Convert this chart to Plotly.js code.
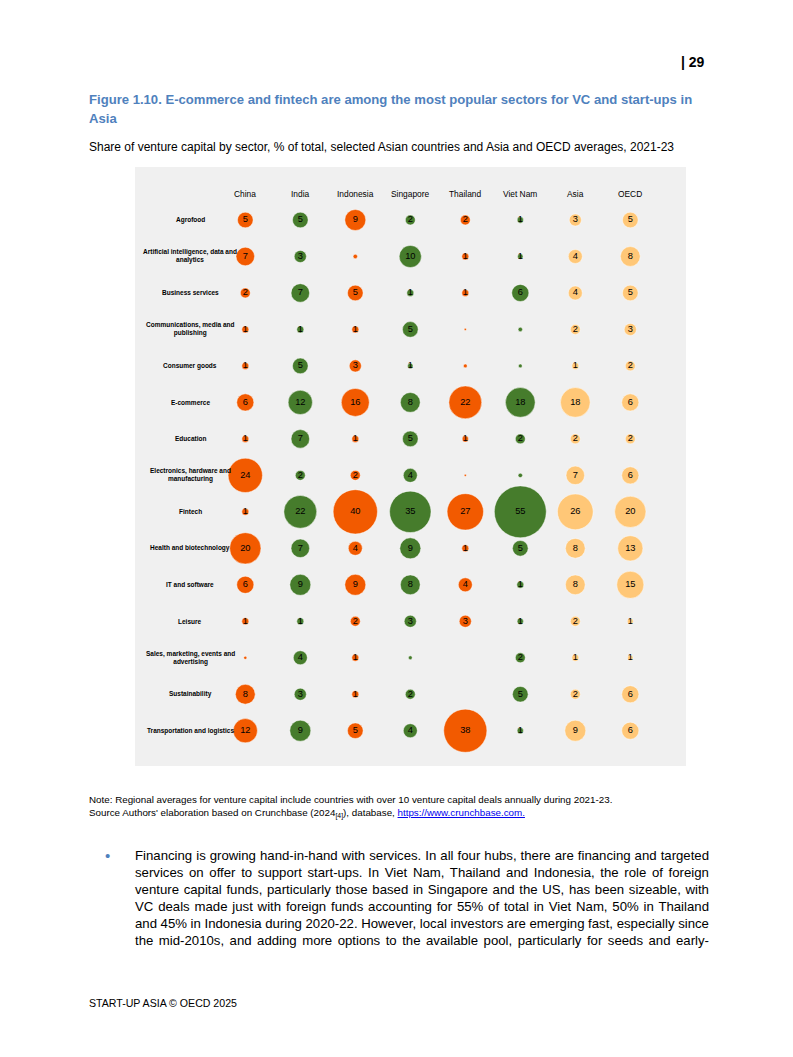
<!DOCTYPE html>
<html>
<head>
<meta charset="utf-8">
<script src="https://cdn.plot.ly/plotly-3.0.1.min.js"></script>
<style>
html,body{margin:0;padding:0;background:#fff;}
#chart{width:793px;height:1057px;}
</style>
</head>
<body>
<div id="chart"></div>
<script>
// ---------- DATA ----------
const countries = ["China", "India", "Indonesia", "Singapore", "Thailand", "Viet Nam", "Asia", "OECD"];
const sectors = [
  "Agrofood",
  "Artificial intelligence, data and<br>analytics",
  "Business services",
  "Communications, media and<br>publishing",
  "Consumer goods",
  "E-commerce",
  "Education",
  "Electronics, hardware and<br>manufacturing",
  "Fintech",
  "Health and biotechnology",
  "IT and software",
  "Leisure",
  "Sales, marketing, events and<br>advertising",
  "Sustainability",
  "Transportation and logistics"
];
// values per country, in sector order (% of total)
const china     = [5, 7, 2, 1, 1, 6, 1, 24, 1, 20, 6, 1, 0.2, 8, 12];
const india     = [5, 3, 7, 1, 5, 12, 7, 2, 22, 7, 9, 1, 4, 3, 9];
const indonesia = [9, 0.4, 5, 1, 3, 16, 1, 2, 40, 4, 9, 2, 1, 1, 5];
const singapore = [2, 10, 1, 5, 0.6, 8, 5, 4, 35, 9, 8, 3, 0.3, 2, 4];
const thailand  = [2, 1, 1, 0.1, 0.3, 22, 0.8, 0.1, 27, 1, 4, 3, 0, 0, 38];
const vietnam   = [0.8, 0.6, 6, 0.4, 0.3, 18, 2, 0.4, 55, 5, 1, 0.8, 2, 5, 0.8];
const asia      = [3, 4, 4, 2, 1, 18, 2, 7, 26, 8, 8, 2, 1, 2, 9];
const oecd      = [5, 8, 5, 3, 2, 6, 2, 6, 20, 13, 15, 0.7, 0.6, 6, 6];
const seriesValues = [china, india, indonesia, singapore, thailand, vietnam, asia, oecd];

// ---------- STYLE ----------
const ORANGE = "#F25A00", GREEN = "#467C2C", LIGHT = "#FFC777";
const colColors = [ORANGE, GREEN, ORANGE, GREEN, ORANGE, GREEN, LIGHT, LIGHT];
const NARROW = "'Liberation Sans Narrow', 'Arial Narrow', 'Liberation Sans', Arial, sans-serif";
const ARIAL = "'Liberation Sans', Arial, sans-serif";
const W = 793, H = 1057;
const px = v => v / W;
const py = v => 1 - v / H;

// ---------- TRACES ----------
const traces = [];
countries.forEach((c, ci) => {
  const xs = [], ys = [], sz = [], lx = [], ly = [], tx = [];
  seriesValues[ci].forEach((v, ri) => {
    if (v <= 0) return;
    xs.push(ci); ys.push(ri); sz.push(7 * Math.sqrt(v));
    const r = Math.round(v);
    if (r >= 1) { lx.push(ci); ly.push(ri); tx.push(String(r)); }
  });
  traces.push({
    type: "scatter", mode: "markers", x: xs, y: ys,
    marker: {size: sz, sizemode: "diameter", sizeref: 1, color: colColors[ci], opacity: 1,
             line: {color: "rgba(255,255,255,0.45)", width: 1}},
    hoverinfo: "skip", showlegend: false, cliponaxis: false, name: c
  });
  traces.push({
    type: "scatter", mode: "text", x: lx, y: ly, text: tx,
    textposition: "middle center",
    textfont: {family: NARROW, size: 9.3, color: "#000"},
    hoverinfo: "skip", showlegend: false, cliponaxis: false, name: c + " labels"
  });
});

// ---------- ANNOTATIONS ----------
const ann = [];
countries.forEach((c, ci) => ann.push({
  x: ci, y: -0.71, xref: "x", yref: "y", text: c, showarrow: false,
  xanchor: "center", yanchor: "middle", font: {family: NARROW, size: 8.4, color: "#000"}
}));
sectors.forEach((s, ri) => ann.push({
  x: -1, y: ri, xref: "x", yref: "y", text: "<b>" + s + "</b>", showarrow: false,
  xanchor: "center", yanchor: "middle", align: "center",
  font: {family: NARROW, size: 6.5, color: "#000"}
}));

function pa(x, y, text, font, xanchor) {
  ann.push({x: px(x), y: py(y), xref: "paper", yref: "paper", text: text, showarrow: false,
            xanchor: xanchor || "left", yanchor: "middle", align: "left", font: font});
}
pa(707, 62, "<b>| 29</b>", {family: ARIAL, size: 14, color: "#000"}, "right");
const BLUE = "#4F81BD";
pa(87, 100, "<b>Figure 1.10. E-commerce and fintech are among the most popular sectors for VC and start-ups in</b>", {family: NARROW, size: 13.1, color: BLUE});
pa(87, 118, "<b>Asia</b>", {family: NARROW, size: 13.1, color: BLUE});
pa(87, 147, "Share of venture capital by sector, % of total, selected Asian countries and Asia and OECD averages, 2021-23", {family: NARROW, size: 12, color: "#000"});
pa(87, 799, "Note: Regional averages for venture capital include countries with over 10 venture capital deals annually during 2021-23.", {family: NARROW, size: 9.8, color: "#000"});
pa(87, 813, "Source Authors' elaboration based on Crunchbase (2024<sub>[4]</sub>), database, <span style='color:#0000EE;text-decoration:underline'>https://www.crunchbase.com.</span>", {family: NARROW, size: 9.8, color: "#000"});
pa(103, 855, "•", {family: ARIAL, size: 15, color: BLUE});
const bodyLines = [
  "Financing is growing hand-in-hand with services. In all four hubs, there are financing and targeted",
  "services on offer to support start-ups. In Viet Nam, Thailand and Indonesia, the role of foreign",
  "venture capital funds, particularly those based in Singapore and the US, has been sizeable, with",
  "VC deals made just with foreign funds accounting for 55% of total in Viet Nam, 50% in Thailand",
  "and 45% in Indonesia during 2020-22. However, local investors are emerging fast, especially since",
  "the mid-2010s, and adding more options to the available pool, particularly for seeds and early-"
];
bodyLines.forEach((l, i) => pa(133, 855 + i * 17, l, {family: ARIAL, size: 13.2, color: "#000"}));
pa(87, 1003, "START-UP ASIA © OECD 2025", {family: ARIAL, size: 10.6, color: "#000"});

// ---------- LAYOUT ----------
const x0 = 245.3, dx = 55, y0 = 220, dy = 36.48;
const layout = {
  width: W, height: H,
  margin: {l: 0, r: 0, t: 0, b: 0, pad: 0},
  paper_bgcolor: "#fff", plot_bgcolor: "rgba(0,0,0,0)",
  xaxis: {range: [(0 - x0) / dx, (W - x0) / dx], visible: false, fixedrange: true},
  yaxis: {range: [(H - y0) / dy, (0 - y0) / dy], visible: false, fixedrange: true},
  shapes: [{type: "rect", xref: "paper", yref: "paper", x0: px(135), x1: px(686), y0: py(167), y1: py(766),
            fillcolor: "#F0F0F0", line: {width: 0}, layer: "below"}],
  annotations: ann
};
Plotly.newPlot("chart", traces, layout, {staticPlot: true, displayModeBar: false}).then(gd => {
  // justify the body paragraph to the text column width (133px .. 707px)
  gd.querySelectorAll("text.annotation-text").forEach(t => {
    const s = t.textContent;
    if (bodyLines.indexOf(s) < 0) return;
    const len = t.getComputedTextLength();
    const spaces = (s.match(/ /g) || []).length;
    const extra = (574 - len) / spaces;
    t.style.wordSpacing = extra.toFixed(2) + "px";
  });
});
</script>
</body>
</html>
